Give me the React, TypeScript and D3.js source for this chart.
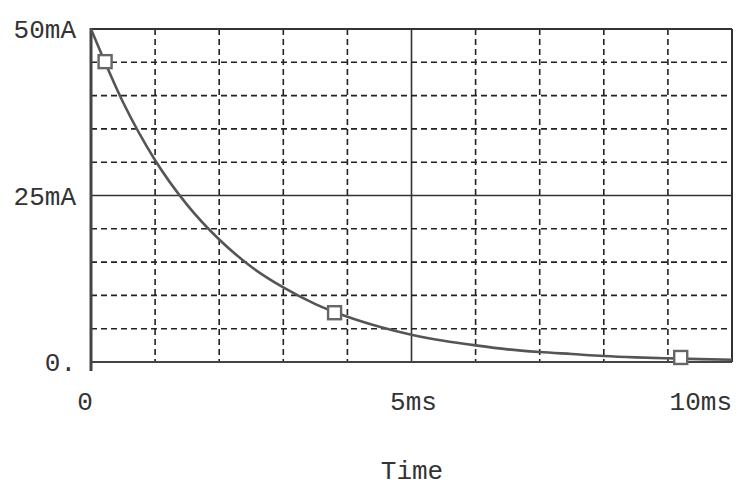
import React, { useEffect, useRef } from "react";
import * as d3 from "d3";

// readings (ms, mA)
const times = [0, 0.5, 1, 1.5, 2, 2.5, 3, 3.5, 4, 4.5, 5, 5.5, 6, 6.5, 7, 7.5, 8, 8.5, 9, 9.5, 10];
const current = [50, 39, 30.3, 23.6, 18.4, 14.3, 11.2, 8.7, 6.8, 5.3, 4.1, 3.2, 2.5, 1.9, 1.5, 1.2, 0.9, 0.7, 0.56, 0.43, 0.34];

// marker squares on the trace
const markerTimes = [0.22, 3.8, 9.2];
const markerValues = [45.1, 7.4, 0.68];

const xTicks = [0, 5, 10];
const xTickLabels = ["0", "5ms", "10ms"];
const yTicks = [0, 25, 50];
const yTickLabels = ["0.", "25mA", "50mA"];

const W = 743;
const H = 487;
const FONT = "'Liberation Mono', 'Courier New', monospace";

export default function App() {
  const ref = useRef<SVGSVGElement>(null);

  useEffect(() => {
    const root = d3.select(ref.current);
    root.selectAll("*").remove();

    const left = 91, right = 732, top = 29, bottom = 362;

    const x = d3.scaleLinear().domain([0, 10]).range([left, right]);
    const y = d3.scaleLinear().domain([0, 50]).range([bottom, top]);

    root.append("rect").attr("width", W).attr("height", H).attr("fill", "#fff");

    const g = root.append("g");

    // grid
    const gridX = d3.range(1, 10);
    const gridY = d3.range(5, 50, 5);
    g.selectAll("line.gx")
      .data(gridX)
      .join("line")
      .attr("x1", (d) => x(d))
      .attr("x2", (d) => x(d))
      .attr("y1", top)
      .attr("y2", bottom)
      .attr("stroke", (d) => (d === 5 ? "#333" : "#222"))
      .attr("stroke-width", 1.6)
      .attr("stroke-dasharray", (d) => (d === 5 ? null : "6 4"));
    g.selectAll("line.gy")
      .data(gridY)
      .join("line")
      .attr("x1", left)
      .attr("x2", right)
      .attr("y1", (d) => y(d))
      .attr("y2", (d) => y(d))
      .attr("stroke", (d) => (d === 25 ? "#333" : "#222"))
      .attr("stroke-width", 1.6)
      .attr("stroke-dasharray", (d) => (d === 25 ? null : "6 4"));

    // frame
    g.append("line").attr("x1", left).attr("x2", right).attr("y1", top).attr("y2", top)
      .attr("stroke", "#333").attr("stroke-width", 2);
    g.append("line").attr("x1", right).attr("x2", right).attr("y1", top).attr("y2", bottom)
      .attr("stroke", "#333").attr("stroke-width", 2);
    g.append("line").attr("x1", left).attr("x2", right).attr("y1", bottom).attr("y2", bottom)
      .attr("stroke", "#444").attr("stroke-width", 2.2);
    g.append("line").attr("x1", left).attr("x2", left).attr("y1", top - 1).attr("y2", bottom + 9)
      .attr("stroke", "#444").attr("stroke-width", 3);

    // trace
    const line = d3
      .line<number>()
      .x((d, i) => x(times[i]))
      .y((d) => y(d))
      .curve(d3.curveMonotoneX);
    g.append("path")
      .attr("d", line(current))
      .attr("fill", "none")
      .attr("stroke", "#555")
      .attr("stroke-width", 2.6);

    // markers
    const s = 13;
    g.selectAll("rect.mk")
      .data(markerTimes)
      .join("rect")
      .attr("x", (d) => x(d) - s / 2)
      .attr("y", (d, i) => y(markerValues[i]) - s / 2)
      .attr("width", s)
      .attr("height", s)
      .attr("fill", "#fff")
      .attr("stroke", "#666")
      .attr("stroke-width", 2.4);

    // y labels
    g.selectAll("text.yl")
      .data(yTicks)
      .join("text")
      .attr("x", left - 15)
      .attr("y", (d) => y(d) + 9)
      .attr("text-anchor", "end")
      .attr("font-family", FONT)
      .attr("font-size", 26)
      .attr("fill", "#333")
      .text((d, i) => yTickLabels[i]);

    // x labels
    g.selectAll("text.xl")
      .data(xTicks)
      .join("text")
      .attr("x", (d, i) => (i === xTicks.length - 1 ? x(d) : x(d) - (i === 0 ? 6 : -2)))
      .attr("y", 410)
      .attr("text-anchor", (d, i) => (i === xTicks.length - 1 ? "end" : "middle"))
      .attr("font-family", FONT)
      .attr("font-size", 26)
      .attr("fill", "#333")
      .text((d, i) => xTickLabels[i]);

    g.append("text")
      .attr("x", 412)
      .attr("y", 479)
      .attr("text-anchor", "middle")
      .attr("font-family", FONT)
      .attr("font-size", 26)
      .attr("fill", "#333")
      .text("Time");
  }, []);

  return (
    <svg
      ref={ref}
      width={W}
      height={H}
      style={{ position: "absolute", left: 0, top: 0, display: "block" }}
    />
  );
}
